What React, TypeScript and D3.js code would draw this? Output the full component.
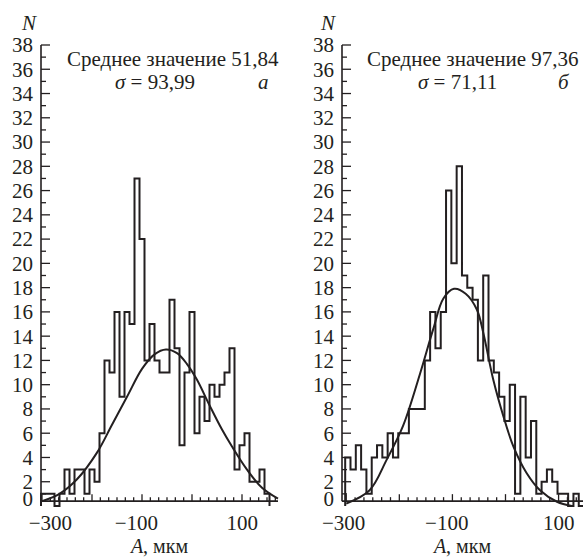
import React, { useEffect, useRef } from "react";
import * as d3 from "d3";

// histogram counts, bins of 10 мкм
const binWidth = 10;
const leftBinStart = -305;
const leftCounts = [
  1, 1, 1, 0, 1, 3, 1, 3, 3, 1, 3, 2, 6, 12, 11, 16, 9, 16, 15, 27, 22, 12, 15,
  12, 11, 11, 17, 13, 5, 11, 16, 6, 9, 7, 10, 9, 10, 11, 13, 3, 5, 6, 2, 2, 3, 1,
];
const rightBinStart = -302;
const rightCounts = [
  4, 3, 5, 3, 1, 4, 5, 4, 6, 4, 6, 6, 8, 8, 8, 12, 16, 13, 16, 26, 20, 28, 19,
  18, 17, 12, 19, 12, 11, 9, 7, 10, 1, 9, 4, 7, 1, 2, 3, 2, 1, 1, 0, 1, 0,
];

// fitted normal curves
const leftCurveX = [-300, -265, -230, -190, -160, -130, -100, -75, -52, -30, -10, 10, 35, 60, 80, 110, 140, 172];
const leftCurveY = [0.4, 1.0, 2.2, 4.4, 6.7, 9.0, 11.3, 12.5, 12.9, 12.6, 11.7, 10.4, 8.3, 6.3, 4.9, 3.0, 1.5, 0.6];
const rightCurveX = [-300, -256, -224, -193, -161, -136, -117, -97, -75, -54, -42, -23, -4, 15, 40, 65, 97, 125];
const rightCurveY = [0.2, 1.3, 3.8, 6.6, 10.9, 14.6, 17.1, 17.9, 17.5, 16.2, 14.3, 10.4, 7.4, 4.9, 2.7, 1.3, 0.35, 0.0];

const yTickLabels = [0, 2, 4, 6, 8, 10, 12, 14, 16, 18, 20, 22, 24, 26, 28, 30, 32, 34, 36, 38];
const xMajorTicks = [-300, -200, -100, 0, 100];
const xTickLabels = [-300, -100, 100];

const leftTitle = "Среднее значение 51,84";
const leftSigma = "93,99";
const rightTitle = "Среднее значение 97,36";
const rightSigma = "71,11";

const FONT = "'Liberation Serif', 'Times New Roman', 'DejaVu Serif', serif";
const INK = "#231f20";

const panels = [
  {
    counts: leftCounts, binStart: leftBinStart, curveX: leftCurveX, curveY: leftCurveY,
    domain: [-302, 172], range: [41, 278],
    title: leftTitle, sigma: leftSigma, letter: "а",
    titleX: 67, sigmaX: 115, letterX: 258, nX: 22, firstShift: 14,
  },
  {
    counts: rightCounts, binStart: rightBinStart, curveX: rightCurveX, curveY: rightCurveY,
    domain: [-308, 146], range: [342, 583],
    title: rightTitle, sigma: rightSigma, letter: "б",
    titleX: 367, sigmaX: 418, letterX: 558, nX: 321, firstShift: 3,
  },
];

const App = () => {
  const ref = useRef<SVGSVGElement>(null);

  useEffect(() => {
    const svg = d3.select(ref.current);
    svg.selectAll("*").remove();

    const y = d3.scaleLinear().domain([0, 38]).range([506, 45]);
    const axisY = y(0.4); // the axis line sits a little above the zero level

    panels.forEach(p => {
      const x = d3.scaleLinear().domain(p.domain).range(p.range).clamp(true);
      const g = svg.append("g");
      const x0 = p.range[0];

      // y axis with inward ticks
      g.append("line")
        .attr("x1", x0).attr("x2", x0)
        .attr("y1", y(38)).attr("y2", axisY)
        .attr("stroke", INK).attr("stroke-width", 1.6);
      g.selectAll(".yt")
        .data(d3.range(1, 39))
        .enter().append("line")
        .attr("x1", x0)
        .attr("x2", d => x0 + (d % 2 === 0 ? 9 : 5))
        .attr("y1", d => y(d)).attr("y2", d => y(d))
        .attr("stroke", INK).attr("stroke-width", 1.3);
      g.selectAll(".yl")
        .data(yTickLabels)
        .enter().append("text")
        .attr("x", x0 - 8)
        .attr("y", d => Math.min(y(d), axisY - 2))
        .attr("dy", "0.35em")
        .attr("text-anchor", "end")
        .attr("font-family", FONT).attr("font-size", 21)
        .attr("fill", INK)
        .text(d => d);

      // x axis with inward ticks
      g.append("line")
        .attr("x1", p.range[0]).attr("x2", p.range[1])
        .attr("y1", axisY).attr("y2", axisY)
        .attr("stroke", INK).attr("stroke-width", 1.6);
      const minor = d3.range(-300, p.domain[1], 100 / 6);
      g.selectAll(".xt")
        .data(minor)
        .enter().append("line")
        .attr("x1", d => x(d)).attr("x2", d => x(d))
        .attr("y1", axisY)
        .attr("y2", d => axisY - (xMajorTicks.some(m => Math.abs(m - d) < 1) ? 7 : 4))
        .attr("stroke", INK).attr("stroke-width", 1.3);
      g.selectAll(".xl")
        .data(xTickLabels)
        .enter().append("text")
        .attr("x", (d, i) => x(d) + 16 + (i === 0 ? p.firstShift : 0))
        .attr("y", 530)
        .attr("text-anchor", "end")
        .attr("font-family", FONT).attr("font-size", 21)
        .attr("fill", INK)
        .text(d => (d < 0 ? "\u2212" + Math.abs(d) : String(d)));

      // histogram outline
      const pts: [number, number][] = [[p.binStart, 0]];
      p.counts.forEach((c, i) => pts.push([p.binStart + i * binWidth, c]));
      pts.push([p.binStart + p.counts.length * binWidth, 0]);
      const step = d3.line<[number, number]>()
        .x(d => x(d[0]))
        .y(d => y(d[1]))
        .curve(d3.curveStepAfter);
      g.append("path")
        .attr("d", step(pts))
        .attr("fill", "none")
        .attr("stroke", INK)
        .attr("stroke-width", 2)
        .attr("stroke-linejoin", "miter");

      // fitted curve
      const curvePts = p.curveX.map((v, i) => [v, p.curveY[i]] as [number, number]);
      const smooth = d3.line<[number, number]>()
        .x(d => x(d[0]))
        .y(d => y(d[1]))
        .curve(d3.curveCatmullRom.alpha(0.5));
      g.append("path")
        .attr("d", smooth(curvePts))
        .attr("fill", "none")
        .attr("stroke", INK)
        .attr("stroke-width", 2);

      // texts
      g.append("text")
        .attr("x", p.nX).attr("y", 30)
        .attr("font-family", FONT).attr("font-size", 21)
        .attr("font-style", "italic").attr("fill", INK)
        .text("N");
      g.append("text")
        .attr("x", p.titleX).attr("y", 66)
        .attr("font-family", FONT).attr("font-size", 21)
        .attr("fill", INK)
        .text(p.title);
      const s = g.append("text")
        .attr("x", p.sigmaX).attr("y", 89)
        .attr("font-family", FONT).attr("font-size", 21)
        .attr("fill", INK);
      s.append("tspan").attr("font-style", "italic").text("σ");
      s.append("tspan").text(" = " + p.sigma);
      g.append("text")
        .attr("x", p.letterX).attr("y", 89)
        .attr("font-family", FONT).attr("font-size", 21)
        .attr("font-style", "italic").attr("fill", INK)
        .text(p.letter);
      const t = g.append("text")
        .attr("x", (p.range[0] + p.range[1]) / 2).attr("y", 552.5)
        .attr("text-anchor", "middle")
        .attr("font-family", FONT).attr("font-size", 20)
        .attr("fill", INK);
      t.append("tspan").attr("font-style", "italic").text("A");
      t.append("tspan").text(", мкм");
    });
  }, []);

  return (
    <svg
      ref={ref}
      width={583}
      height={557}
      style={{ position: "absolute", left: 0, top: 0, background: "#fff" }}
    />
  );
};

export default App;
